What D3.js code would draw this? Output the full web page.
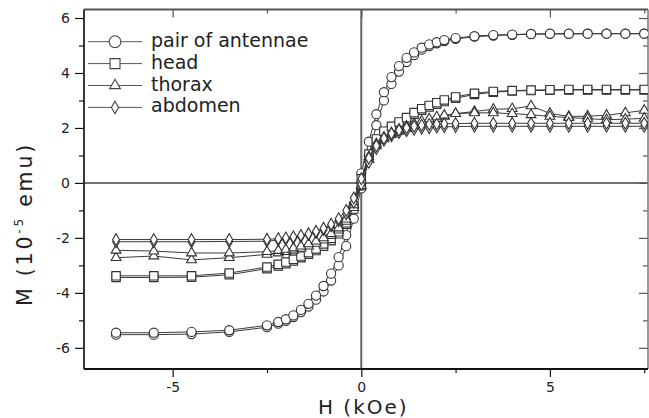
<!DOCTYPE html>
<html>
<head>
<meta charset="utf-8">
<title>M vs H loops</title>
<script src="https://d3js.org/d3.v7.min.js"></script>
<style>
  body { margin: 0; background: #fff; }
  svg { display: block; font-family: "DejaVu Sans", sans-serif; }
</style>
</head>
<body>
<div id="chart"></div>
<script>
// field steps in kOe, same for every branch
var fieldKOe = [-6.5,-5.5,-4.5,-3.5,-2.5,-2.2,-2.0,-1.8,-1.6,-1.4,-1.2,-1.0,-0.8,-0.6,-0.4,-0.2,0,
  0.2,0.4,0.6,0.8,1.0,1.2,1.4,1.6,1.8,2.0,2.2,2.5,3.0,3.5,4.0,4.5,5.0,5.5,6.0,6.5,7.0,7.5];

// M in 1e-5 emu, "up" = increasing field branch, "down" = decreasing field branch
var antennaeUp = [-5.52,-5.52,-5.5,-5.42,-5.25,-5.12,-5.02,-4.88,-4.7,-4.5,-4.25,-3.95,-3.55,-3.0,-2.3,-1.3,-0.2,
  1.0,2.1,3.0,3.6,4.05,4.4,4.65,4.85,4.98,5.08,5.16,5.24,5.32,5.36,5.39,5.41,5.42,5.42,5.43,5.43,5.43,5.43];
var antennaeDown = [-5.45,-5.45,-5.42,-5.36,-5.18,-5.06,-4.96,-4.82,-4.62,-4.4,-4.1,-3.75,-3.3,-2.7,-1.9,-0.8,0.35,
  1.5,2.5,3.3,3.85,4.25,4.55,4.75,4.92,5.04,5.12,5.2,5.27,5.34,5.38,5.4,5.42,5.43,5.43,5.43,5.43,5.43,5.43];

var headUp = [-3.44,-3.44,-3.43,-3.34,-3.12,-3.02,-2.94,-2.84,-2.72,-2.6,-2.46,-2.3,-2.1,-1.85,-1.5,-0.95,-0.1,
  0.9,1.5,1.8,2.0,2.15,2.32,2.5,2.64,2.76,2.86,2.96,3.08,3.22,3.3,3.34,3.36,3.37,3.38,3.38,3.38,3.38,3.38];
var headDown = [-3.38,-3.38,-3.38,-3.28,-3.06,-2.96,-2.88,-2.78,-2.66,-2.54,-2.4,-2.22,-2.02,-1.78,-1.45,-0.85,0.15,
  1.05,1.6,1.88,2.06,2.22,2.38,2.56,2.7,2.82,2.92,3.02,3.13,3.26,3.33,3.36,3.38,3.39,3.4,3.4,3.4,3.4,3.4];

var thoraxUp = [-2.72,-2.66,-2.8,-2.72,-2.6,-2.55,-2.5,-2.45,-2.38,-2.3,-2.2,-2.08,-1.92,-1.72,-1.4,-0.9,-0.1,
  0.85,1.35,1.6,1.76,1.88,1.98,2.08,2.17,2.26,2.34,2.42,2.52,2.6,2.68,2.7,2.8,2.53,2.42,2.43,2.46,2.55,2.64];
var thoraxDown = [-2.45,-2.48,-2.55,-2.55,-2.5,-2.46,-2.42,-2.37,-2.3,-2.22,-2.12,-2.0,-1.85,-1.64,-1.32,-0.8,0.1,
  0.95,1.42,1.66,1.82,1.95,2.06,2.16,2.25,2.33,2.4,2.46,2.52,2.55,2.55,2.52,2.48,2.42,2.38,2.34,2.3,2.32,2.35];

var abdomenUp = [-2.14,-2.14,-2.14,-2.13,-2.12,-2.08,-2.05,-2.0,-1.95,-1.88,-1.8,-1.7,-1.56,-1.38,-1.12,-0.7,-0.05,
  0.75,1.25,1.55,1.72,1.83,1.9,1.95,1.99,2.01,2.03,2.04,2.05,2.06,2.06,2.06,2.06,2.06,2.06,2.06,2.06,2.06,2.06];
var abdomenDown = [-2.06,-2.06,-2.06,-2.06,-2.05,-2.03,-2.0,-1.96,-1.91,-1.85,-1.76,-1.65,-1.5,-1.3,-1.0,-0.55,0.15,
  0.9,1.35,1.62,1.8,1.92,2.0,2.06,2.1,2.13,2.14,2.15,2.16,2.17,2.17,2.17,2.17,2.17,2.17,2.17,2.17,2.17,2.17];

var seriesNames = ["pair of antennae", "head", "thorax", "abdomen"];

var xMajor = [-5, 0, 5], xMinor = [-2.5, 2.5, 7.5];
var yMajor = [-6, -4, -2, 0, 2, 4, 6], yMinor = [-5, -3, -1, 1, 3, 5];

var width = 649, height = 418;
var plotL = 84, plotR = 648, plotT = 9.5, plotB = 369;

var series = [
  {name: seriesNames[0], sym: d3.symbolCircle, size: 66, up: antennaeUp, down: antennaeDown},
  {name: seriesNames[1], sym: d3.symbolSquare, size: 70, up: headUp, down: headDown},
  {name: seriesNames[2], sym: d3.symbolTriangle, size: 42, up: thoraxUp, down: thoraxDown},
  {name: seriesNames[3], sym: d3.symbolDiamond, size: 40, up: abdomenUp, down: abdomenDown}
];

var x = d3.scaleLinear().domain([-7.35, 7.6]).range([plotL, plotR]);
var y = d3.scaleLinear().domain([-6.77, 6.31]).range([plotB, plotT]);

var svg = d3.select("#chart").append("svg")
    .attr("width", width).attr("height", height);
svg.append("rect").attr("width", width).attr("height", height).attr("fill", "#fff");

svg.append("defs").append("clipPath").attr("id", "clip")
  .append("rect").attr("x", plotL).attr("y", plotT)
  .attr("width", plotR - plotL).attr("height", plotB - plotT);

// zero lines
svg.append("line").attr("x1", plotL).attr("x2", plotR)
  .attr("y1", y(0)).attr("y2", y(0))
  .attr("stroke", "#444").attr("stroke-width", 1.5);
svg.append("line").attr("x1", x(0)).attr("x2", x(0))
  .attr("y1", plotT).attr("y2", plotB)
  .attr("stroke", "#666").attr("stroke-width", 2);

var hyphen = function(d) { return String(d); };

function addAxis(axis, tx, ty, color) {
  var g = svg.append("g")
    .attr("transform", "translate(" + tx + "," + ty + ")")
    .call(axis);
  g.select(".domain").remove();
  g.selectAll("line").attr("stroke", color).attr("stroke-width", 1.2);
  g.selectAll("text")
    .attr("font-family", "DejaVu Sans, sans-serif")
    .attr("font-size", 14).attr("fill", "#222");
  return g;
}

addAxis(d3.axisBottom(x).tickValues(xMajor).tickSize(8).tickPadding(5).tickFormat(hyphen), 0, plotB, "#111");
addAxis(d3.axisBottom(x).tickValues(xMinor).tickSize(4).tickFormat(""), 0, plotB, "#111");
addAxis(d3.axisTop(x).tickValues(xMajor).tickSize(-8).tickFormat(""), 0, plotT, "#555");
addAxis(d3.axisTop(x).tickValues(xMinor).tickSize(-4).tickFormat(""), 0, plotT, "#555");
addAxis(d3.axisLeft(y).tickValues(yMajor).tickSize(9).tickPadding(5).tickFormat(hyphen), plotL, 0, "#111");
addAxis(d3.axisLeft(y).tickValues(yMinor).tickSize(5).tickFormat(""), plotL, 0, "#111");
addAxis(d3.axisRight(y).tickValues(yMajor).tickSize(-9).tickFormat(""), plotR, 0, "#555");
addAxis(d3.axisRight(y).tickValues(yMinor).tickSize(-5).tickFormat(""), plotR, 0, "#555");

// frame
svg.append("line").attr("x1", plotL).attr("x2", plotR).attr("y1", plotT).attr("y2", plotT)
  .attr("stroke", "#555").attr("stroke-width", 2);
svg.append("line").attr("x1", plotR).attr("x2", plotR).attr("y1", plotT).attr("y2", plotB)
  .attr("stroke", "#777").attr("stroke-width", 1.5);
svg.append("line").attr("x1", plotL).attr("x2", plotR).attr("y1", plotB).attr("y2", plotB)
  .attr("stroke", "#111").attr("stroke-width", 2);
svg.append("line").attr("x1", plotL).attr("x2", plotL).attr("y1", plotT).attr("y2", plotB)
  .attr("stroke", "#222").attr("stroke-width", 1.8);

var line = d3.line()
  .x(function(d) { return x(d[0]); })
  .y(function(d) { return y(d[1]); });

var plot = svg.append("g").attr("clip-path", "url(#clip)");

series.forEach(function(s) {
  var branches = [s.up, s.down].map(function(vals) {
    return fieldKOe.map(function(h, i) { return [h, vals[i]]; });
  });
  var g = plot.append("g");
  g.selectAll("path.branch").data(branches).enter().append("path")
    .attr("class", "branch")
    .attr("d", line)
    .attr("fill", "none")
    .attr("stroke", "#3a3a3a")
    .attr("stroke-width", 1);
  var sym = d3.symbol().type(s.sym).size(s.size);
  branches.forEach(function(b) {
    g.selectAll(null).data(b).enter().append("path")
      .attr("d", sym)
      .attr("transform", function(d) { return "translate(" + x(d[0]) + "," + y(d[1]) + ")"; })
      .attr("fill", "#fff")
      .attr("stroke", "#333")
      .attr("stroke-width", 1.1);
  });
});

// legend
var legend = svg.append("g").attr("transform", "translate(88,41.7)");
var legendSizes = [110, 100, 50, 45];
series.forEach(function(s, i) {
  var row = legend.append("g").attr("transform", "translate(0," + (i * 21.9) + ")");
  row.append("line").attr("x1", 0).attr("x2", 54)
    .attr("stroke", "#555").attr("stroke-width", 1);
  row.append("path")
    .attr("d", d3.symbol().type(s.sym).size(legendSizes[i]))
    .attr("transform", "translate(27,0)")
    .attr("fill", "#fff").attr("stroke", "#444").attr("stroke-width", 1.1);
  row.append("text").attr("x", 63).attr("y", 5)
    .attr("font-size", 19).attr("fill", "#222")
    .text(s.name);
});

// axis titles
svg.append("text")
  .attr("x", x(0) + 2).attr("y", 414)
  .attr("text-anchor", "middle")
  .attr("font-size", 20).attr("letter-spacing", 2).attr("fill", "#222")
  .text("H (kOe)");

var yTitle = svg.append("text")
  .attr("transform", "translate(32,224) rotate(-90)")
  .attr("text-anchor", "middle")
  .attr("font-size", 20.5).attr("letter-spacing", 2.8).attr("fill", "#222");
yTitle.append("tspan").text("M (10");
yTitle.append("tspan").attr("font-size", 12).attr("dy", -9).text("-5");
yTitle.append("tspan").attr("dy", 9).text(" emu)");
</script>
</body>
</html>
